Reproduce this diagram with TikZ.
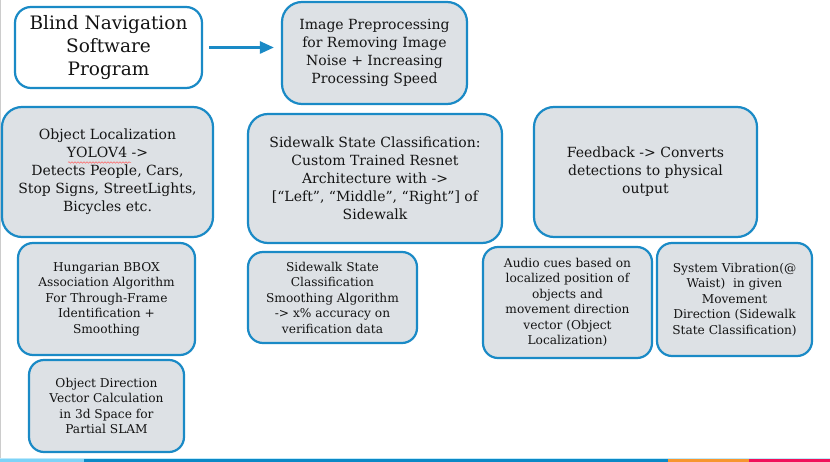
\documentclass[tikz,border=0pt]{standalone}
\usepackage{fontspec}
\setmainfont{DejaVu Serif}
\usetikzlibrary{arrows.meta,decorations.pathmorphing}
\definecolor{bord}{HTML}{1A8AC6}
\definecolor{boxfill}{HTML}{DDE1E5}
\definecolor{txt}{HTML}{141414}
\definecolor{barlight}{HTML}{7DD3F7}
\definecolor{bardark}{HTML}{0B89C6}
\definecolor{barorange}{HTML}{F7962F}
\definecolor{barred}{HTML}{F0105A}
\tikzset{
  anybox/.style={draw=bord, line width=2.2pt, rounded corners=#1, align=center, inner sep=0pt, text=txt},
  bigbox/.style={anybox=20pt, fill=boxfill, font=\fontsize{14}{18}\selectfont},
  smallbox/.style={anybox=15pt, fill=boxfill, font=\fontsize{12.2}{15.5}\selectfont},
  titlebox/.style={anybox=16pt, fill=white, font=\fontsize{18.5}{23}\selectfont},
  arr/.style={draw=bord, line width=2.6pt, -{Triangle[length=14pt,width=12pt]}},
  squiggle/.style={draw=red!60, line width=0.5pt, decorate, decoration={snake, amplitude=0.8pt, segment length=3pt}}
}
\begin{document}
\begin{tikzpicture}[x=1pt,y=-1pt]
\useasboundingbox (0,0) rectangle (830,462);
\fill[white] (0,0) rectangle (830,462);
\draw[gray!40, line width=1pt] (0.5,0) -- (0.5,458);
% bottom bar
\fill[barlight!50] (0,457.5) rectangle (830,459);
\fill[barlight] (0,459) rectangle (84,462);
\fill[bardark] (84,459) rectangle (668,462);
\fill[barorange] (668,459) rectangle (749,462);
\fill[barred] (749,459) rectangle (830,462);
% boxes
\node[titlebox, minimum width=187pt, minimum height=81pt] (title) at (108.5,47.5) {Blind Navigation\\Software\\Program};
\node[bigbox, minimum width=185pt, minimum height=102pt] (pre) at (374.5,53) {Image Preprocessing\\for Removing Image\\Noise + Increasing\\Processing Speed};
\node[bigbox, minimum width=211pt, minimum height=130pt] (obj) at (107.5,172) {Object Localization\\YOLOV4 ->\\Detects People, Cars,\\Stop Signs, StreetLights,\\Bicycles etc.};
\node[bigbox, minimum width=254pt, minimum height=129pt] (side) at (375,178.5) {Sidewalk State Classification:\\Custom Trained Resnet\\Architecture with ->\\{[}“Left”, “Middle”, “Right”{]} of\\Sidewalk};
\node[bigbox, minimum width=223pt, minimum height=130pt] (feed) at (645.5,172) {Feedback -> Converts\\detections to physical\\output};
\node[smallbox, minimum width=177pt, minimum height=112pt] (hung) at (106.5,299) {Hungarian BBOX\\Association Algorithm\\For Through-Frame\\Identification +\\Smoothing};
\node[smallbox, minimum width=155pt, minimum height=92pt] (dir) at (106.5,406) {Object Direction\\Vector Calculation\\in 3d Space for\\Partial SLAM};
\node[smallbox, minimum width=169pt, minimum height=91pt] (smooth) at (332.5,297.5) {Sidewalk State\\Classification\\Smoothing Algorithm\\-> x\% accuracy on\\verification data};
\node[smallbox, minimum width=169pt, minimum height=111pt] (audio) at (567.5,302.5) {Audio cues based on\\localized position of\\objects and\\movement direction\\vector (Object\\Localization)};
\node[smallbox, minimum width=155pt, minimum height=113pt] (vib) at (734.5,299.5) {System Vibration(@\\Waist)\ \ in given\\Movement\\Direction (Sidewalk\\State Classification)};
% spell-check underline under YOLOV4
\coordinate (sqa) at (68,162.5);
\coordinate (sqb) at (131,162.5);
\draw[squiggle] (sqa) -- (sqb);
% arrow
\draw[arr, shorten <=6pt, shorten >=7pt] (title.east) -- (title.east -| pre.west);
\end{tikzpicture}
\end{document}
